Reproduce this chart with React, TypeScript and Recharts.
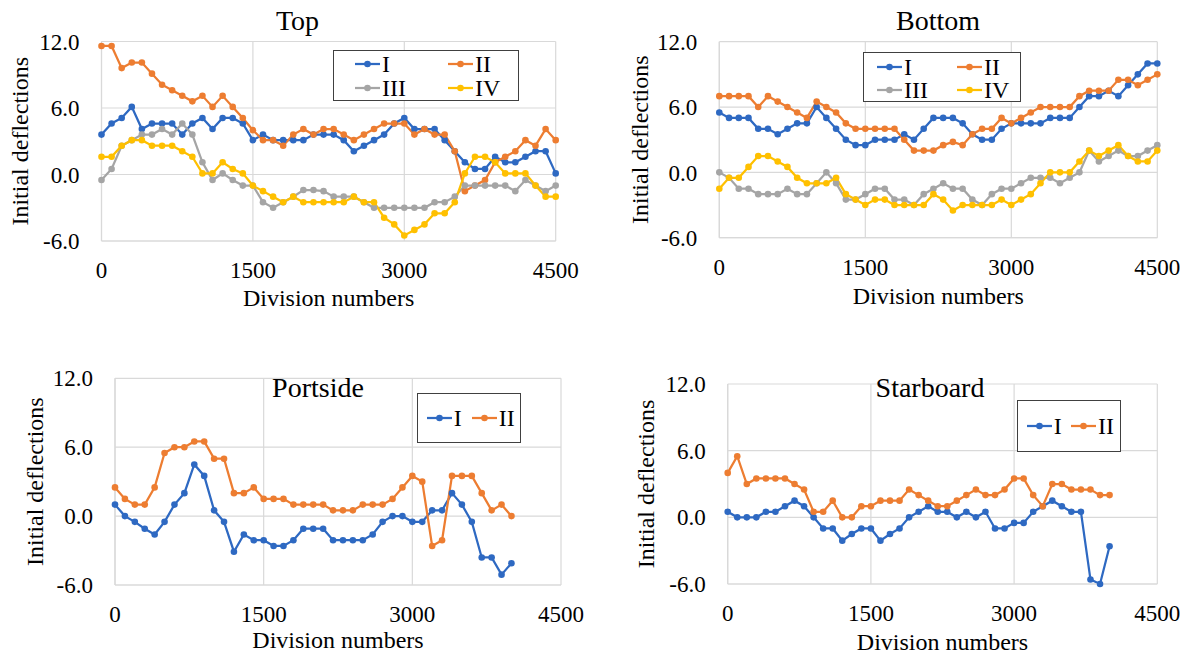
import React from 'react';
import { LineChart, Line, XAxis, YAxis, CartesianGrid, Legend } from 'recharts';

// ---------- data ----------
const divisionsLong = [
  0, 100, 200, 300, 400, 500, 600, 700, 800, 900,
  1000, 1100, 1200, 1300, 1400, 1500, 1600, 1700, 1800, 1900,
  2000, 2100, 2200, 2300, 2400, 2500, 2600, 2700, 2800, 2900,
  3000, 3100, 3200, 3300, 3400, 3500, 3600, 3700, 3800, 3900,
  4000, 4100, 4200, 4300, 4400, 4500,
];
const divisionsShort = [
  0, 100, 200, 300, 400, 500, 600, 700, 800, 900,
  1000, 1100, 1200, 1300, 1400, 1500, 1600, 1700, 1800, 1900,
  2000, 2100, 2200, 2300, 2400, 2500, 2600, 2700, 2800, 2900,
  3000, 3100, 3200, 3300, 3400, 3500, 3600, 3700, 3800, 3900,
  4000,
];

const xTicks = [0, 1500, 3000, 4500];
const yTicks = [-6, 0, 6, 12];

const topI = [3.6, 4.6, 5.1, 6.1, 4.1, 4.6, 4.6, 4.6, 3.6, 4.6, 5.1, 4.1, 5.1, 5.1, 4.6, 3.1, 3.6, 3.1, 3.1, 3.1, 3.1, 3.6, 3.6, 3.6, 3.1, 2.1, 2.6, 3.1, 3.6, 4.6, 5.1, 4.1, 4.1, 4.1, 3.1, 2.1, 1.1, 0.5, 0.5, 1.6, 1.1, 1.1, 1.6, 2.1, 2.1, 0.1];
const topII = [11.6, 11.6, 9.6, 10.1, 10.1, 9.1, 8.1, 7.6, 7.1, 6.6, 7.1, 6.1, 7.1, 6.1, 5.1, 4.0, 3.1, 3.1, 2.6, 3.6, 4.1, 3.6, 4.1, 4.1, 3.6, 3.1, 3.6, 4.1, 4.6, 4.6, 4.6, 3.6, 4.1, 3.6, 3.6, 2.1, -1.5, -1.0, -0.5, 1.1, 1.6, 2.1, 3.1, 2.6, 4.1, 3.1];
const topIII = [-0.5, 0.5, 2.6, 3.1, 3.6, 3.6, 4.1, 3.6, 4.6, 3.6, 1.1, -0.5, 0.1, -0.5, -1.0, -1.0, -2.5, -3.0, -2.5, -2.0, -1.4, -1.4, -1.5, -2.0, -2.0, -2.0, -2.5, -3.0, -3.0, -3.0, -3.0, -3.0, -3.0, -2.5, -2.5, -2.0, -1.0, -1.0, -1.0, -1.0, -1.0, -1.5, -0.5, -1.0, -1.5, -1.0];
const topIV = [1.6, 1.6, 2.6, 3.1, 3.1, 2.6, 2.6, 2.6, 2.1, 1.6, 0.1, 0.1, 1.1, 0.5, 0.1, -1.0, -1.5, -2.0, -2.5, -2.0, -2.5, -2.5, -2.5, -2.5, -2.5, -2.0, -2.5, -2.5, -3.9, -4.5, -5.5, -5.0, -4.5, -3.5, -3.5, -2.5, 0.1, 1.6, 1.6, 1.1, 0.1, 0.1, 0.1, -1.0, -2.0, -2.0];

const bottomI = [5.5, 5.0, 5.0, 5.0, 4.0, 4.0, 3.5, 4.0, 4.5, 4.5, 6.0, 5.0, 4.0, 3.0, 2.5, 2.5, 3.0, 3.0, 3.0, 3.5, 3.0, 4.0, 5.0, 5.0, 5.0, 4.5, 3.5, 3.0, 3.0, 4.0, 4.5, 4.5, 4.5, 4.5, 5.0, 5.0, 5.0, 6.0, 7.0, 7.0, 7.5, 7.0, 8.0, 9.0, 10.0, 10.0];
const bottomII = [7.0, 7.0, 7.0, 7.0, 6.0, 7.0, 6.5, 6.0, 5.5, 5.0, 6.5, 6.0, 5.5, 4.5, 4.0, 4.0, 4.0, 4.0, 4.0, 3.0, 2.0, 2.0, 2.0, 2.5, 2.8, 2.5, 3.5, 4.0, 4.0, 5.0, 4.5, 5.0, 5.5, 6.0, 6.0, 6.0, 6.0, 7.0, 7.5, 7.5, 7.5, 8.5, 8.5, 8.0, 8.5, 9.0];
const bottomIII = [0.0, -0.5, -1.5, -1.5, -2.0, -2.0, -2.0, -1.5, -2.0, -2.0, -1.0, 0.0, -1.0, -2.5, -2.5, -2.0, -1.5, -1.5, -2.5, -2.5, -3.0, -2.0, -1.5, -1.0, -1.5, -1.5, -2.5, -3.0, -2.0, -1.5, -1.5, -1.0, -0.5, -0.5, -0.5, -1.0, -0.5, 0.0, 2.0, 1.0, 1.5, 2.0, 1.5, 1.5, 2.0, 2.5];
const bottomIV = [-1.5, -0.5, -0.5, 0.5, 1.5, 1.5, 1.0, 0.5, -0.5, -1.0, -1.0, -1.0, -0.5, -2.0, -2.5, -3.0, -2.5, -2.5, -3.0, -3.0, -3.0, -3.0, -2.0, -2.5, -3.5, -3.0, -3.0, -3.0, -3.0, -2.5, -3.0, -2.5, -2.0, -1.0, 0.0, 0.0, 0.0, 1.0, 2.0, 1.5, 2.0, 2.5, 1.5, 1.0, 1.0, 2.0];

const portI = [1.0, 0.0, -0.5, -1.1, -1.6, -0.5, 1.0, 2.0, 4.5, 3.5, 0.5, -0.5, -3.1, -1.6, -2.1, -2.1, -2.6, -2.6, -2.1, -1.1, -1.1, -1.1, -2.1, -2.1, -2.1, -2.1, -1.6, -0.5, 0.0, 0.0, -0.5, -0.5, 0.5, 0.5, 2.0, 1.0, -0.5, -3.6, -3.6, -5.1, -4.1];
const portII = [2.5, 1.5, 1.0, 1.0, 2.5, 5.5, 6.0, 6.0, 6.5, 6.5, 5.0, 5.0, 2.0, 2.0, 2.5, 1.5, 1.5, 1.5, 1.0, 1.0, 1.0, 1.0, 0.5, 0.5, 0.5, 1.0, 1.0, 1.0, 1.5, 2.5, 3.5, 3.0, -2.6, -2.1, 3.5, 3.5, 3.5, 2.0, 0.5, 1.0, 0.0];

const starI = [0.5, 0.0, 0.0, 0.0, 0.5, 0.5, 1.0, 1.5, 1.0, 0.0, -1.0, -1.0, -2.1, -1.5, -1.0, -1.0, -2.1, -1.5, -1.0, 0.0, 0.5, 1.0, 0.5, 0.5, 0.0, 0.5, 0.0, 0.5, -1.0, -1.0, -0.5, -0.5, 0.5, 1.0, 1.5, 1.0, 0.5, 0.5, -5.6, -6.0, -2.6];
const starII = [4.0, 5.5, 3.0, 3.5, 3.5, 3.5, 3.5, 3.0, 2.5, 0.5, 0.5, 1.5, 0.0, 0.0, 1.0, 1.0, 1.5, 1.5, 1.5, 2.5, 2.0, 1.5, 1.0, 1.0, 1.5, 2.0, 2.5, 2.0, 2.0, 2.5, 3.5, 3.5, 2.0, 1.0, 3.0, 3.0, 2.5, 2.5, 2.5, 2.0, 2.0];

const COLORS: Record<string, string> = {
  I: '#2E69C2',
  II: '#ED7D31',
  III: '#A5A5A5',
  IV: '#FFC000',
};

const FONT = 'Liberation Serif';

function buildRows(divs: number[], series: Record<string, number[]>) {
  return divs.map((d, i) => {
    const row: Record<string, number> = { d };
    Object.keys(series).forEach((k) => {
      row[k] = series[k][i];
    });
    return row;
  });
}

type LegendItem = { key: string; x: number; y: number };
type PanelCfg = {
  left: number;
  top: number;
  width: number;
  height: number;
  plot: { l: number; t: number; r: number; b: number };
  rows: Record<string, number>[];
  keys: string[];
  title: string;
  titleX: number;
  titleBaseline: number;
  yLabelX: number;
  xLabelBaseline: number;
  legend: { l: number; t: number; w: number; h: number; items: LegendItem[] };
};

const panels: PanelCfg[] = [
  {
    left: 0, top: 0, width: 595, height: 330,
    plot: { l: 101.5, t: 41.5, r: 555.7, b: 241 },
    rows: buildRows(divisionsLong, { I: topI, II: topII, III: topIII, IV: topIV }),
    keys: ['I', 'II', 'III', 'IV'],
    title: 'Top', titleX: 297.5, titleBaseline: 30,
    yLabelX: 20, xLabelBaseline: 306,
    legend: {
      l: 332.7, t: 50, w: 186.6, h: 50.7,
      items: [
        { key: 'I', x: 22.3, y: 13.7 },
        { key: 'II', x: 115.3, y: 13.7 },
        { key: 'III', x: 22.3, y: 38.3 },
        { key: 'IV', x: 115.3, y: 38.3 },
      ],
    },
  },
  {
    left: 598, top: 0, width: 595, height: 330,
    plot: { l: 719.3, t: 41.7, r: 1157.3, b: 237.7 },
    rows: buildRows(divisionsLong, { I: bottomI, II: bottomII, III: bottomIII, IV: bottomIV }),
    keys: ['I', 'II', 'III', 'IV'],
    title: 'Bottom', titleX: 938, titleBaseline: 30,
    yLabelX: 640, xLabelBaseline: 304,
    legend: {
      l: 862.7, t: 52, w: 158, h: 50,
      items: [
        { key: 'I', x: 14.3, y: 14.5 },
        { key: 'II', x: 94.3, y: 14.5 },
        { key: 'III', x: 14.3, y: 38 },
        { key: 'IV', x: 94.3, y: 38 },
      ],
    },
  },
  {
    left: 0, top: 330, width: 595, height: 333,
    plot: { l: 115, t: 378.3, r: 561, b: 585 },
    rows: buildRows(divisionsShort, { I: portI, II: portII }),
    keys: ['I', 'II'],
    title: 'Portside', titleX: 318, titleBaseline: 397,
    yLabelX: 35, xLabelBaseline: 648,
    legend: {
      l: 416.7, t: 392.7, w: 104, h: 50.6,
      items: [
        { key: 'I', x: 10, y: 25 },
        { key: 'II', x: 55, y: 25 },
      ],
    },
  },
  {
    left: 598, top: 330, width: 595, height: 333,
    plot: { l: 727.7, t: 384, r: 1157.3, b: 584 },
    rows: buildRows(divisionsShort, { I: starI, II: starII }),
    keys: ['I', 'II'],
    title: 'Starboard', titleX: 930, titleBaseline: 397,
    yLabelX: 646, xLabelBaseline: 650,
    legend: {
      l: 1017, t: 400, w: 103.7, h: 51.7,
      items: [
        { key: 'I', x: 9.7, y: 25.7 },
        { key: 'II', x: 54, y: 25.7 },
      ],
    },
  },
];

function LegendBox({ cfg }: { cfg: PanelCfg['legend'] }) {
  return (
    <div
      style={{
        position: 'relative',
        width: cfg.w,
        height: cfg.h,
        boxSizing: 'border-box',
        border: '1.3px solid #404040',
        background: '#fff',
        fontFamily: FONT,
      }}
    >
      {cfg.items.map((it) => (
        <div
          key={it.key}
          style={{
            position: 'absolute',
            left: it.x - 1,
            top: it.y - 12 - 1,
            height: 24,
            display: 'flex',
            alignItems: 'center',
            whiteSpace: 'nowrap',
          }}
        >
          <svg width={25} height={10} style={{ display: 'block' }}>
            <line x1={0} y1={5} x2={25} y2={5} stroke={COLORS[it.key]} strokeWidth={2.25} />
            <circle cx={12.5} cy={5} r={3.3} fill={COLORS[it.key]} />
          </svg>
          <span style={{ fontSize: 24, lineHeight: '24px', color: '#000', marginLeft: 2, fontFamily: FONT }}>
            {it.key}
          </span>
        </div>
      ))}
    </div>
  );
}

function Panel({ cfg }: { cfg: PanelCfg }) {
  const { left, top, width, height, plot } = cfg;
  const marginTop = plot.t - top;
  const marginRight = left + width - plot.r;
  const yAxisWidth = plot.l - left;
  const bottomSpace = top + height - plot.b;
  const xAxisHeight = bottomSpace - 4;
  const xLabelX = (plot.l + plot.r) / 2 - left;
  const xLabelY = cfg.xLabelBaseline - top;
  const yLabelX = cfg.yLabelX - left;
  const yLabelY = (plot.t + plot.b) / 2 - top;
  const tickStyle = { fontSize: 23, fill: '#000', fontFamily: FONT };

  return (
    <div style={{ position: 'absolute', left, top, width, height }}>
      <div
        style={{
          position: 'absolute',
          left: cfg.titleX - left - 150,
          top: cfg.titleBaseline - top - 23.45,
          width: 300,
          textAlign: 'center',
          fontFamily: FONT,
          fontSize: 28,
          lineHeight: '28px',
          color: '#000',
          zIndex: 2,
          pointerEvents: 'none',
        }}
      >
        {cfg.title}
      </div>
      <LineChart
        width={width}
        height={height}
        data={cfg.rows}
        margin={{ top: marginTop, right: marginRight, bottom: 4, left: 0 }}
      >
        <CartesianGrid stroke="#D9D9D9" strokeWidth={1.2} />
        <XAxis
          dataKey="d"
          type="number"
          domain={[0, 4500]}
          ticks={xTicks}
          interval={0}
          height={xAxisHeight}
          tickSize={0}
          tickMargin={21}
          axisLine={{ stroke: '#D9D9D9', strokeWidth: 1.2 }}
          tickLine={false}
          tick={tickStyle}
          label={{
            content: () => (
              <text x={xLabelX} y={xLabelY} textAnchor="middle" fontSize={24} fill="#000" fontFamily={FONT}>
                Division numbers
              </text>
            ),
          }}
        />
        <YAxis
          type="number"
          domain={[-6, 12]}
          ticks={yTicks}
          interval={0}
          width={yAxisWidth}
          tickSize={0}
          tickMargin={22}
          axisLine={{ stroke: '#D9D9D9', strokeWidth: 1.2 }}
          tickLine={false}
          tick={tickStyle}
          tickFormatter={(v: number) => v.toFixed(1)}
          label={{
            content: () => (
              <text
                x={yLabelX}
                y={yLabelY}
                transform={`rotate(-90 ${yLabelX} ${yLabelY})`}
                textAnchor="middle"
                dominantBaseline="central"
                fontSize={24}
                fill="#000"
                fontFamily={FONT}
              >
                Initial deflections
              </text>
            ),
          }}
        />
        <Legend
          layout="vertical"
          align="center"
          verticalAlign="middle"
          wrapperStyle={{
            left: cfg.legend.l - left,
            top: cfg.legend.t - top,
            width: cfg.legend.w,
            height: cfg.legend.h,
          }}
          content={() => <LegendBox cfg={cfg.legend} />}
        />
        {cfg.keys.map((k) => (
          <Line
            key={k}
            type="linear"
            dataKey={k}
            name={k}
            stroke={COLORS[k]}
            strokeWidth={2.25}
            dot={{ r: 3.3, fill: COLORS[k], stroke: COLORS[k], strokeWidth: 0 }}
            activeDot={false}
            isAnimationActive={false}
          />
        ))}
      </LineChart>
    </div>
  );
}

export default function App() {
  return (
    <div
      style={{
        position: 'absolute',
        left: 0,
        top: 0,
        width: 1193,
        height: 663,
        background: '#fff',
        overflow: 'hidden',
      }}
    >
      {panels.map((p) => (
        <Panel key={p.title} cfg={p} />
      ))}
    </div>
  );
}
